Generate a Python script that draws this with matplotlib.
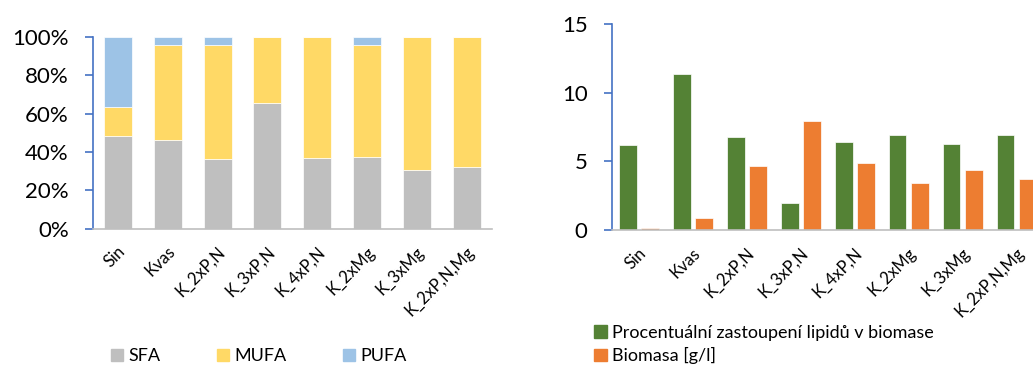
import matplotlib.pyplot as plt
import matplotlib.ticker as mtick
import matplotlib.transforms as mtrans
from matplotlib.patches import Patch
import numpy as np

plt.rcParams['font.family'] = ['Lato', 'DejaVu Sans']

categories = ["Sin", "Kvas", "K_2xP,N", "K_3xP,N", "K_4xP,N", "K_2xMg", "K_3xMg", "K_2xP,N,Mg"]

# fatty acid composition (fractions)
sfa = [0.483, 0.462, 0.363, 0.655, 0.370, 0.373, 0.306, 0.321]
mufa = [0.152, 0.498, 0.597, 0.345, 0.630, 0.587, 0.694, 0.679]
pufa = [0.365, 0.040, 0.040, 0.000, 0.000, 0.040, 0.000, 0.000]

# lipid content [%] and biomass [g/l]
lipidy = [6.21, 11.36, 6.75, 1.99, 6.41, 6.92, 6.26, 6.92]
biomasa = [0.12, 0.85, 4.68, 7.96, 4.88, 3.42, 4.39, 3.69]

c_sfa, c_mufa, c_pufa = "#BFBFBF", "#FFD966", "#9DC3E6"
c_green, c_orange = "#548235", "#ED7D31"
axis_blue = "#4472C4"
axis_gray = "#BFBFBF"

fig = plt.figure(figsize=(10.33, 3.65), dpi=100)

x = np.arange(len(categories))


def style_axis(ax, dx, dy):
    for s in ["top", "right"]:
        ax.spines[s].set_visible(False)
    ax.spines["left"].set_color(axis_blue)
    ax.spines["left"].set_linewidth(1.2)
    ax.spines["bottom"].set_color(axis_gray)
    ax.spines["bottom"].set_linewidth(1.2)
    ax.tick_params(axis="y", color=axis_blue, length=5.5, width=1.2, labelsize=16, pad=12)
    ax.tick_params(axis="x", length=0, labelsize=12, pad=6)
    ax.set_xticks(x)
    ax.set_xticklabels(categories, rotation=45, ha="right", va="center", rotation_mode="anchor")
    # excel puts the end of the rotated label a bit right of / below the tick
    off = mtrans.ScaledTranslation(dx / 100, dy / 100, fig.dpi_scale_trans)
    for lab in ax.get_xticklabels():
        lab.set_transform(lab.get_transform() + off)


# left: stacked fatty acids
ax1 = fig.add_axes([0.090, 0.373, 0.386, 0.526])
w = 0.56
ax1.bar(x, sfa, w, color=c_sfa, edgecolor="white", linewidth=0.5, label="SFA")
ax1.bar(x, mufa, w, bottom=sfa, color=c_mufa, edgecolor="white", linewidth=0.5, label="MUFA")
ax1.bar(x, pufa, w, bottom=np.array(sfa) + np.array(mufa), color=c_pufa,
        edgecolor="white", linewidth=0.5, label="PUFA")
ax1.set_ylim(0, 1)
ax1.set_xlim(-0.5, len(categories) - 0.5)
ax1.set_yticks(np.arange(0, 1.01, 0.2))
ax1.yaxis.set_major_formatter(mtick.PercentFormatter(1.0, decimals=0))
style_axis(ax1, 5, -12)

h1 = [Patch(color=c_sfa), Patch(color=c_mufa), Patch(color=c_pufa)]
fig.legend(h1, ["SFA", "MUFA", "PUFA"], loc="center left", bbox_to_anchor=(0.107, 0.024),
           ncol=3, frameon=False, fontsize=13, handlelength=0.7, handleheight=0.7,
           handletextpad=0.3, columnspacing=3.1, borderaxespad=0, borderpad=0)

# right: lipids and biomass
ax2 = fig.add_axes([0.5925, 0.370, 0.418, 0.564])
bw = 0.33
ax2.bar(x - 0.21, lipidy, bw, color=c_green, edgecolor="white", linewidth=0.5,
        label="Procentuální zastoupení lipidů v biomase")
ax2.bar(x + 0.21, biomasa, bw, color=c_orange, edgecolor="white", linewidth=0.5,
        label="Biomasa [g/l]")
ax2.set_ylim(0, 15)
ax2.set_xlim(-0.5, len(categories) - 0.5)
ax2.set_yticks([0, 5, 10, 15])
style_axis(ax2, 5, -12)

h2 = [Patch(color=c_green), Patch(color=c_orange)]
fig.legend(h2, ["Procentuální zastoupení lipidů v biomase", "Biomasa [g/l]"],
           loc="upper left", bbox_to_anchor=(0.575, 0.110), ncol=1, frameon=False,
           fontsize=13, handlelength=0.7, handleheight=0.7, handletextpad=0.3,
           labelspacing=0.36, borderaxespad=0, borderpad=0)

fig.savefig("out.png", dpi=100)
